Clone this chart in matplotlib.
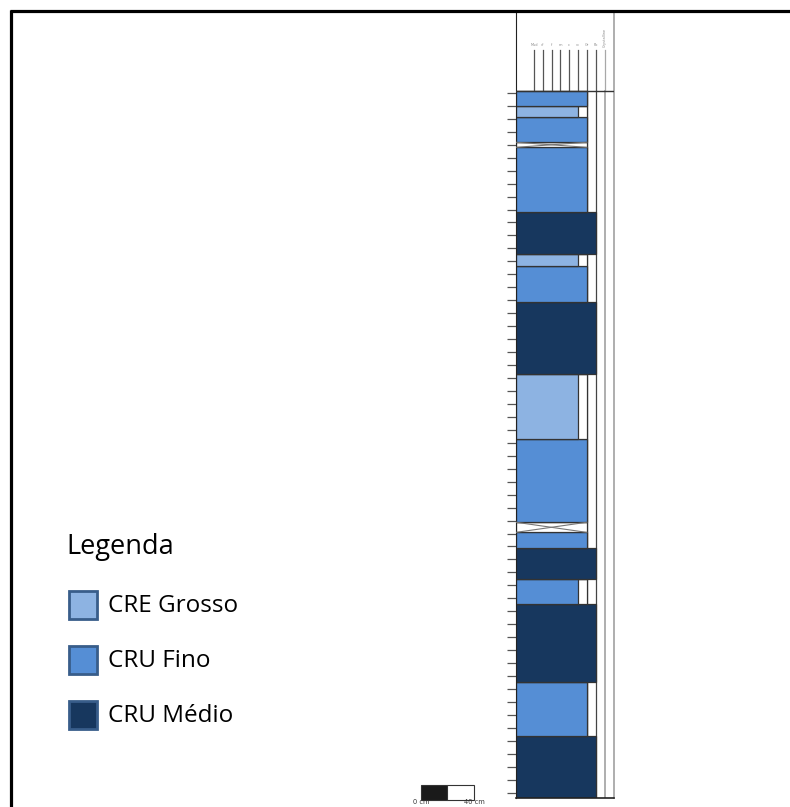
import numpy as np
import matplotlib.pyplot as plt
from matplotlib.patches import Rectangle
from matplotlib.lines import Line2D

# Perfil estratigrafico: base e topo de cada camada (cm, a partir da base)
bed_base = [0, 48.1, 90.0, 149.7, 169.0, 193.4, 205.2, 213.0, 277.0, 327.4,
            383.2, 410.7, 420.0, 452.6, 502.3, 506.2, 525.9, 534.4]
bed_top = [48.1, 90.0, 149.7, 169.0, 193.4, 205.2, 213.0, 277.0, 327.4, 383.2,
           410.7, 420.0, 452.6, 502.3, 506.2, 525.9, 534.4, 545.8]
bed_facies = ['CRU Médio', 'CRU Fino', 'CRU Médio', 'CRU Fino', 'CRU Médio',
              'CRU Fino', None, 'CRU Fino', 'CRE Grosso', 'CRU Médio',
              'CRU Fino', 'CRE Grosso', 'CRU Médio', 'CRU Fino', None,
              'CRU Fino', 'CRE Grosso', 'CRU Fino']
bed_grain = ['Pb', 'Gr', 'Pb', 'vc', 'Pb', 'Gr', None, 'Gr', 'vc', 'Pb',
             'Gr', 'vc', 'Pb', 'Gr', None, 'Gr', 'vc', 'Gr']

grain_labels = ['Mud', 'vf', 'f', 'm', 'c', 'vc', 'Gr', 'Pb', 'Crystalline']
grain_x = [18, 26.75, 35.5, 44.25, 53, 61.75, 70.75, 79.5, 88.5]

legend_names = ['CRE Grosso', 'CRU Fino', 'CRU Médio']
legend_colors = ['#8db3e2', '#558ed5', '#17375e']
facies_color = dict(zip(legend_names, legend_colors))
gx = dict(zip(grain_labels, grain_x))

W, H = 790, 807
fig = plt.figure(figsize=(W / 100, H / 100), dpi=100)

col_top = bed_top[-1]
px_cm = 1.296
y_bot_px, y_top_px = 798.3, 12
ymax = (y_bot_px - y_top_px) / px_cm
header_line_top = (y_bot_px - 50) / px_cm
label_y = (y_bot_px - 47) / px_cm

ax = fig.add_axes([516 / W, (H - y_bot_px) / H, 98 / W, (y_bot_px - y_top_px) / H])
ax.set_xlim(0, 98)
ax.set_ylim(0, ymax)
ax.set_xticks([])
ax.set_yticks(np.arange(4.3, col_top, 10))
ax.set_yticklabels([])
ax.tick_params(axis='y', direction='out', length=6.5, width=0.9, color='#555555')
ax.spines['top'].set_visible(False)
ax.spines['left'].set_color('#222222')
ax.spines['bottom'].set_color('#222222')
ax.spines['bottom'].set_linewidth(1.2)
ax.spines['right'].set_color('#a8a8a8')
ax.spines['right'].set_linewidth(1.3)

# linhas do cabecalho
for name, x in zip(grain_labels, grain_x):
    c = '#a8a8a8' if name == 'Crystalline' else '#555555'
    ax.plot([x, x], [col_top, header_line_top], color=c, lw=0.9, zorder=1)
    if name == 'Crystalline':
        ax.text(x, label_y, name, rotation=90, ha='center', va='bottom',
                fontsize=2.5, color='#888888')
    else:
        ax.text(x, label_y, name, ha='center', va='bottom', fontsize=2.5, color='#888888')
ax.plot([0, 98], [col_top, col_top], color='#333333', lw=1.0, zorder=3)

# linhas continuas do perfil
ax.plot([gx['Gr'], gx['Gr']], [0, col_top], color='#444444', lw=0.9, zorder=1)
ax.plot([gx['Pb'], gx['Pb']], [0, col_top], color='#444444', lw=0.9, zorder=1)
ax.plot([gx['Crystalline'], gx['Crystalline']], [0, col_top], color='#a8a8a8', lw=1.3, zorder=1)

for b, t, f, g in zip(bed_base, bed_top, bed_facies, bed_grain):
    ax.add_patch(Rectangle((0, b), gx['Gr'], t - b, facecolor='white',
                           edgecolor='#333333', lw=0.9, zorder=2))
    if f is None:
        ax.plot([0, gx['Gr']], [t, b], color='#777777', lw=0.8, zorder=3)
        ax.plot([0, gx['Gr']], [b, t], color='#777777', lw=0.8, zorder=3)
        continue
    ax.add_patch(Rectangle((0, b), gx[g], t - b, facecolor=facies_color[f],
                           edgecolor='#333333', lw=0.9, zorder=2))

# moldura
fig.add_artist(Line2D([10 / W, 1], [(H - 11) / H] * 2, color='black', lw=2.3,
                      solid_capstyle='butt'))
fig.add_artist(Line2D([11 / W] * 2, [0, (H - 10) / H], color='black', lw=2.3,
                      solid_capstyle='butt'))

# barra de escala
fig.add_artist(Rectangle((421 / W, (H - 800) / H), 26 / W, 15 / H,
                         facecolor='#1a1a1a', edgecolor='#333333', lw=0.8))
fig.add_artist(Rectangle((447 / W, (H - 800) / H), 27 / W, 15 / H,
                         facecolor='white', edgecolor='#333333', lw=0.8))
fig.text(421 / W, (H - 799.5) / H, '0 cm', ha='center', va='top', fontsize=4.8, color='#333333')
fig.text(474 / W, (H - 799.5) / H, '40 cm', ha='center', va='top', fontsize=4.8, color='#333333')

# legenda
font = 'Open Sans'
fig.text(66 / W, (H - 547) / H, 'Legenda', ha='left', va='center', fontsize=19.5,
         family=font, color='black')
for i, (name, c) in enumerate(zip(legend_names, legend_colors)):
    yc = 605 + 55 * i
    fig.add_artist(Rectangle((69 / W, (H - yc - 14) / H), 28 / W, 28 / H,
                             facecolor=c, edgecolor='#385d8a', lw=2.0))
    fig.text(108 / W, (H - yc - 1) / H, name, ha='left', va='center', fontsize=17.5,
             family=font, color='black')

fig.savefig('out.png', dpi=100)
